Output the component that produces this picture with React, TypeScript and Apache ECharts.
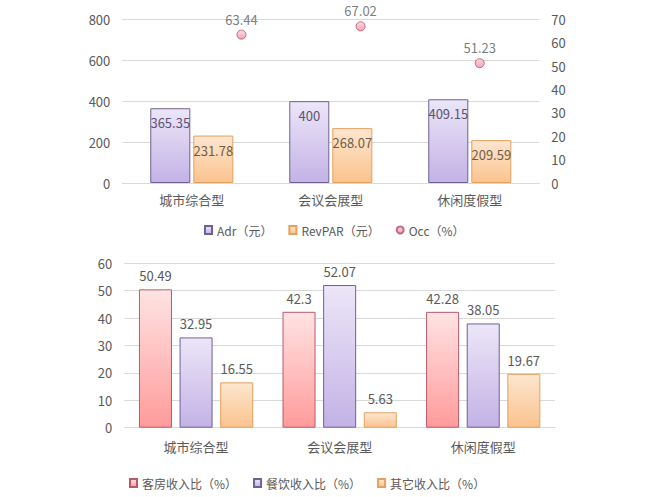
import React, { useEffect, useRef } from "react";
import * as echarts from "echarts";

const categories = ["城市综合型", "会议会展型", "休闲度假型"];
const adrValues = [365.35, 400, 409.15];
const revparValues = [231.78, 268.07, 209.59];
const occValues = [63.44, 67.02, 51.23];
const roomShare = [50.49, 42.3, 42.28];
const foodShare = [32.95, 52.07, 38.05];
const otherShare = [16.55, 5.63, 19.67];

const topLegend = ["Adr（元）", "RevPAR（元）", "Occ（%）"];
const bottomLegend = ["客房收入比（%）", "餐饮收入比（%）", "其它收入比（%）"];

const FONT = "'Noto Sans CJK SC', 'Noto Sans', sans-serif";
const TXT = "#595959";
const GRID_LINE = "#d9d9d9";

const grad = (top: string, bottom: string) => ({
  type: "linear",
  x: 0,
  y: 0,
  x2: 0,
  y2: 1,
  colorStops: [
    { offset: 0, color: top },
    { offset: 1, color: bottom },
  ],
});

const purple = { color: grad("#ece6f8", "#c3b2e6"), borderColor: "#6e6290", borderWidth: 1 };
const orange = { color: grad("#fde6cf", "#fbc38e"), borderColor: "#e2a15e", borderWidth: 1 };
const pink = { color: grad("#ffe3e3", "#ff9b9b"), borderColor: "#b85a6a", borderWidth: 1 };

export default function App() {
  const ref = useRef<HTMLDivElement>(null);
  useEffect(() => {
    if (!ref.current) return;
    const chart = echarts.init(ref.current, undefined, { renderer: "svg" });
    const catAxis = (gridIndex: number, margin: number) => ({
      type: "category",
      gridIndex,
      data: categories,
      axisLine: { lineStyle: { color: GRID_LINE } },
      axisTick: { show: false },
      axisLabel: { color: TXT, fontSize: 13, fontFamily: FONT, margin },
    });
    const valAxis = (gridIndex: number, max: number, interval: number, position: string, split: boolean) => ({
      type: "value",
      gridIndex,
      min: 0,
      max,
      interval,
      position,
      axisLine: { show: false },
      axisTick: { show: false },
      splitLine: { show: split, lineStyle: { color: GRID_LINE } },
      axisLabel: { color: TXT, fontSize: 13, fontFamily: FONT, margin: 12 },
    });
    chart.setOption({
      animation: false,
      backgroundColor: "#ffffff",
      textStyle: { fontFamily: FONT },
      grid: [
        { left: 122.3, right: 108.7, top: 19.3, bottom: 314 },
        { left: 124.3, right: 93, top: 263.3, bottom: 69.3 },
      ],
      legend: [
        {
          data: topLegend.map((name, i) => ({ name, icon: i === 2 ? "circle" : "rect" })),
          left: 199,
          top: 219,
          itemWidth: 7,
          itemHeight: 8,
          itemGap: 16,
          textStyle: { color: TXT, fontSize: 12, fontFamily: FONT },
        },
        {
          data: bottomLegend.map((name) => ({ name, icon: "rect" })),
          left: 124,
          top: 472,
          itemWidth: 7,
          itemHeight: 8,
          itemGap: 16,
          textStyle: { color: TXT, fontSize: 12, fontFamily: FONT },
        },
      ],
      xAxis: [
        catAxis(0, 10),
        { type: "value", gridIndex: 0, min: 0, max: 3.5, show: false },
        catAxis(1, 12),
      ],
      yAxis: [
        valAxis(0, 800, 200, "left", true),
        valAxis(0, 70, 10, "right", false),
        valAxis(1, 60, 10, "left", true),
      ],
      series: [
        {
          name: topLegend[0],
          type: "bar",
          xAxisIndex: 0,
          yAxisIndex: 0,
          data: adrValues,
          barWidth: "28.8%",
          barGap: "7.5%",
          itemStyle: purple,
          label: { show: true, position: "insideTop", distance: 8, color: "#5a5470", fontSize: 13, fontFamily: FONT },
        },
        {
          name: topLegend[1],
          type: "bar",
          xAxisIndex: 0,
          yAxisIndex: 0,
          data: revparValues,
          barWidth: "28.8%",
          barGap: "7.5%",
          itemStyle: orange,
          label: { show: true, position: "insideTop", distance: 8, color: "#6e5c4a", fontSize: 13, fontFamily: FONT },
        },
        {
          name: topLegend[2],
          type: "scatter",
          xAxisIndex: 1,
          yAxisIndex: 1,
          data: occValues.map((v, i) => [i + 1, v]),
          symbolSize: 9,
          itemStyle: { color: grad("#fbd0da", "#ee8fa6"), borderColor: "#b84a66", borderWidth: 1 },
          label: {
            show: true,
            position: "top",
            distance: 4,
            color: TXT,
            fontSize: 13,
            fontFamily: FONT,
            formatter: (p: any) => String(p.value[1]),
          },
        },
        ...[roomShare, foodShare, otherShare].map((data, i) => ({
          name: bottomLegend[i],
          type: "bar",
          xAxisIndex: 2,
          yAxisIndex: 2,
          data,
          barWidth: "23%",
          barGap: "23%",
          itemStyle: [pink, purple, orange][i],
          label: { show: true, position: "top", distance: 7, color: TXT, fontSize: 13, fontFamily: FONT },
        })),
      ],
    });
    return () => chart.dispose();
  }, []);
  return (
    <div
      ref={ref}
      style={{ position: "fixed", left: 0, top: 0, width: 648, height: 497, background: "#fff" }}
    />
  );
}
